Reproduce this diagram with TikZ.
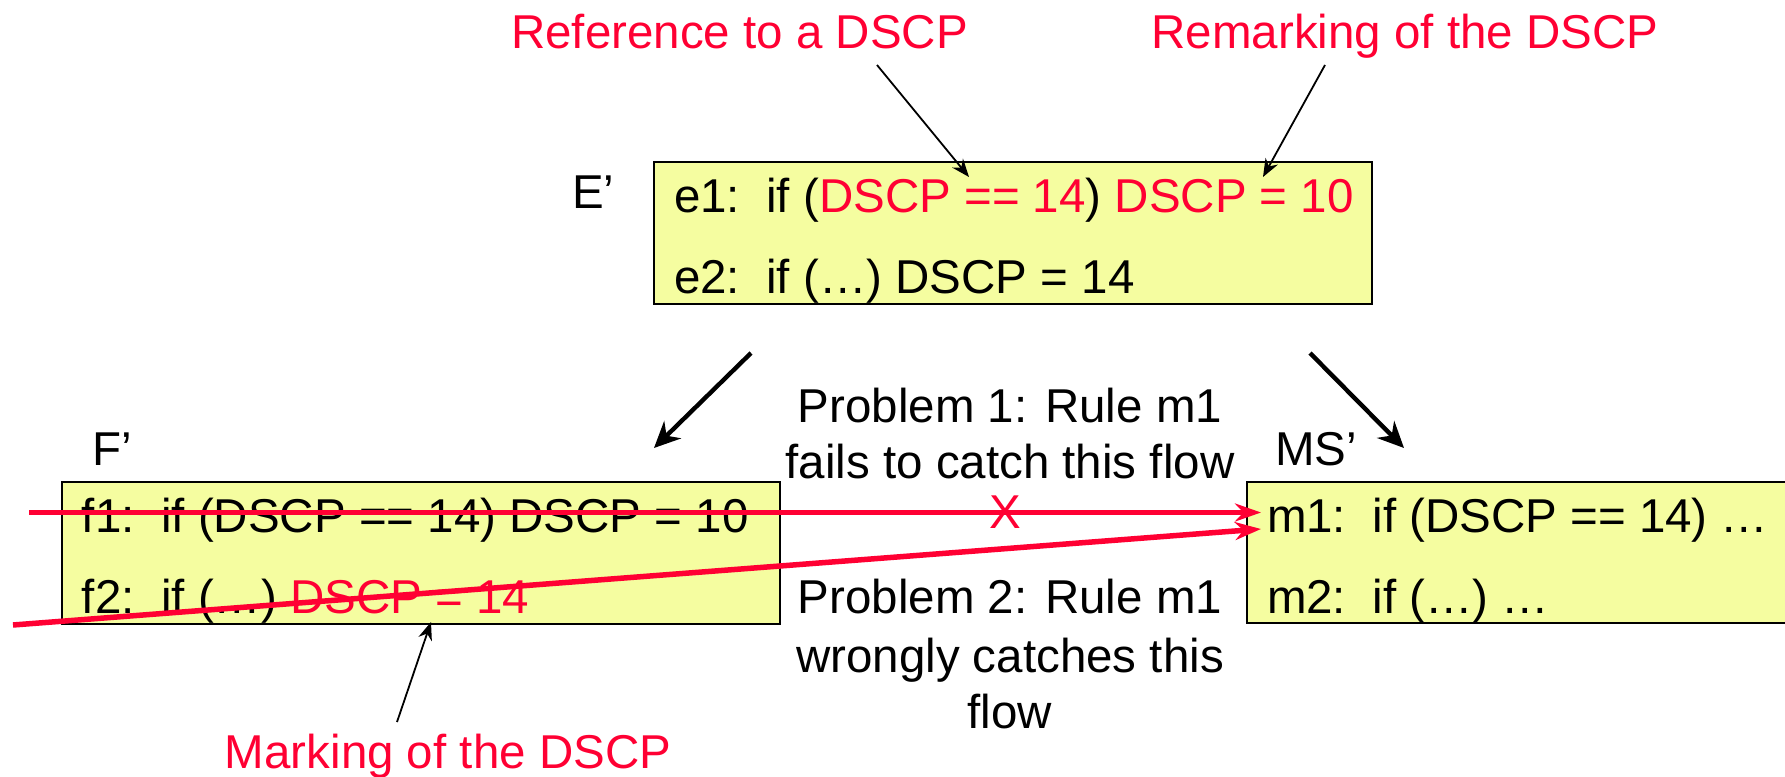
\documentclass[tikz,border=0pt]{standalone}
\usepackage{fontspec}
\setmainfont{Liberation Sans}
\usetikzlibrary{arrows.meta}
\definecolor{hot}{RGB}{255,0,51}
\definecolor{pad}{RGB}{245,253,160}

\begin{document}
\begin{tikzpicture}[x=0.5pt,y=-0.5pt,
  every node/.style={inner sep=0pt, outer sep=0pt,
    font=\fontsize{23.75}{28.5}\selectfont},
  txt/.style={anchor=base west},
  mid/.style={anchor=base},
  note/.style={anchor=base, text=hot},
  rulebox/.style={draw=black, line width=1.2pt, fill=pad, anchor=north west},
  bigarrow/.style={-{Stealth[length=13pt,width=12pt]}, line width=2.2pt},
  thinarrow/.style={-{Stealth[length=9pt,width=7pt]}, line width=0.9pt},
  flowline/.style={draw=hot, line width=2.75pt, -{Stealth[length=13pt,width=9pt]}}
]
\useasboundingbox (0,0) rectangle (1785,777);

% rule tables
\node[rulebox, minimum width=359pt, minimum height=71pt] (E) at (654,162) {};
\node[rulebox, minimum width=359pt, minimum height=71pt] (F) at (62,482) {};
\node[fill=pad, anchor=north west, minimum width=269pt, minimum height=70.5pt] (MS) at (1247,482) {};
\draw[line width=1.2pt] (MS.north east) -- (MS.north west) -- (MS.south west) -- (MS.south east);

% table names
\node[txt] (Elab) at (572,208) {E’};
\node[txt] (Flab) at (92,465) {F’};
\node[txt] (MSlab) at (1275,465) {MS’};

% rules
\node[txt] (e1) at (674,212) {e1:\ \ if (\textcolor{hot}{DSCP == 14}) \textcolor{hot}{DSCP = 10}};
\node[txt] (e2) at (674,293) {e2:\ \ if (…) DSCP = 14};
\node[txt] (f1) at (82,532) {f1:\ \ if (DSCP == 14) DSCP = 10};
\node[txt] (f2) at (82,613) {f2:\ \ if (…) \textcolor{hot}{DSCP = 14}};
\node[txt] (m1) at (1267,532) {m1:\ \ if (DSCP == 14) …};
\node[txt] (m2) at (1267,613) {m2:\ \ if (…) …};

% annotations
\node[note] (refnote) at (739.5,48) {Reference to a DSCP};
\node[note] (remnote) at (1405,48) {Remarking of the DSCP};
\node[note] (marknote) at (448,768) {Marking of the DSCP};

\node[mid] (p1a) at (1010,422) {Problem 1: Rule m1};
\node[mid] (p1b) at (1010,478) {fails to catch this flow};
\node[mid] (p2a) at (1010,613) {Problem 2: Rule m1};
\node[mid] (p2b) at (1010,672) {wrongly catches this};
\node[mid] (p2c) at (1010,728) {flow};

% pointer ends
\coordinate (refA) at (877,65);
\coordinate (refB) at (969,177);
\coordinate (remA) at (1325,65);
\coordinate (remB) at (1263,177);
\coordinate (markA) at (397,722);
\coordinate (markB) at (431,622);
\coordinate (toFa) at (751,353);
\coordinate (toFb) at (654,448);
\coordinate (toMa) at (1310,353);
\coordinate (toMb) at (1404,448);

% flows
\coordinate (flowAin) at (29,512.5);
\coordinate (flowAout) at (1261,512.5);
\coordinate (flowBin) at (13,625);
\coordinate (flowBout) at (1261,529);
\draw[flowline] (flowAin) -- (flowAout);
\draw[flowline] (flowBin) -- (flowBout);
\node[anchor=base, text=hot] (miss) at (1005,528) {X};

% pointers
\draw[thinarrow] (refA) -- (refB);
\draw[thinarrow] (remA) -- (remB);
\draw[thinarrow] (markA) -- (markB);
\draw[bigarrow] (toFa) -- (toFb);
\draw[bigarrow] (toMa) -- (toMb);
\end{tikzpicture}
\end{document}
